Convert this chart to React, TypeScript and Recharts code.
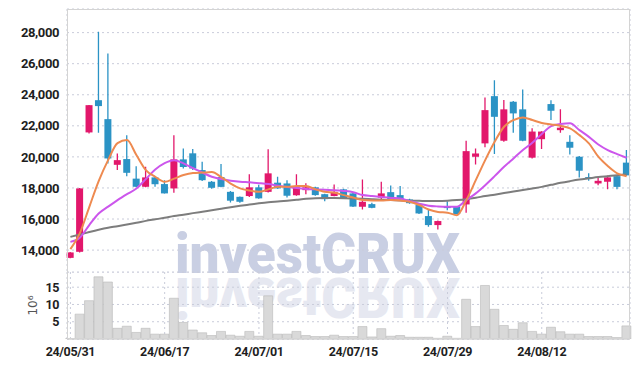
import React from 'react';
import { ComposedChart, Bar, Line, XAxis, YAxis, CartesianGrid } from 'recharts';

const dates = [
  '24/05/31', '24/06/03', '24/06/04', '24/06/05', '24/06/07', '24/06/10', '24/06/11', '24/06/12', '24/06/13', '24/06/14',
  '24/06/17', '24/06/18', '24/06/19', '24/06/20', '24/06/21', '24/06/24', '24/06/25', '24/06/26', '24/06/27', '24/06/28',
  '24/07/01', '24/07/02', '24/07/03', '24/07/04', '24/07/05', '24/07/08', '24/07/09', '24/07/10', '24/07/11', '24/07/12',
  '24/07/15', '24/07/16', '24/07/17', '24/07/18', '24/07/19', '24/07/22', '24/07/23', '24/07/24', '24/07/25', '24/07/26',
  '24/07/29', '24/07/30', '24/07/31', '24/08/01', '24/08/02', '24/08/05', '24/08/06', '24/08/07', '24/08/08', '24/08/09',
  '24/08/12', '24/08/13', '24/08/14', '24/08/16', '24/08/19', '24/08/20', '24/08/21', '24/08/22', '24/08/23', '24/08/26',
];

const open = [
  13500, 13890, 21575, 23650, 22430, 19490, 19860, 18600, 18075, 18680,
  18250, 17970, 19840, 20230, 19150, 18400, 18700, 17750, 17430, 17480,
  18040, 17750, 18340, 18290, 17530, 17860, 18040, 17600, 17480, 17910,
  17650, 16790, 16960, 17380, 17730, 17540, 17260, 16900, 16190, 15610,
  16800, 16790, 16940, 20010, 20870, 23910, 21040, 23550, 23060, 19950,
  21140, 23400, 21720, 20970, 20010, 18700, 18290, 18400, 18760, 19630,
];
const high = [
  13880, 17990, 23340, 28050, 26660, 20220, 21400, 19400, 19360, 18700,
  18500, 21400, 20540, 20500, 19680, 18450, 19550, 17800, 17450, 18890,
  18200, 20490, 18720, 18500, 18890, 18300, 18080, 17620, 18230, 17950,
  17700, 18550, 17050, 18400, 18160, 18120, 17300, 16950, 16620, 15900,
  17150, 16800, 21040, 20540, 23830, 24940, 23660, 23600, 24340, 21840,
  21650, 23650, 23060, 21400, 20050, 18940, 18680, 18800, 18800, 20440,
];
const low = [
  13480, 13850, 21500, 21550, 19580, 19150, 18760, 18050, 18050, 18075,
  17640, 17690, 19260, 19150, 18450, 17950, 18050, 17070, 17050, 17420,
  17300, 17700, 17950, 17380, 17500, 17600, 17500, 17150, 17460, 17300,
  16780, 16620, 16700, 17270, 17200, 17250, 16980, 16330, 15500, 15330,
  16560, 16300, 16400, 19510, 20620, 20180, 20970, 21550, 21000, 19900,
  20500, 22370, 21550, 20160, 18680, 18460, 18180, 17910, 17910, 18780,
];
const close = [
  13850, 17970, 23330, 23270, 19900, 19790, 18975, 18075, 18680, 18240,
  17650, 19840, 19350, 19250, 18500, 18010, 18070, 17180, 17110, 18040,
  17330, 18940, 17970, 17500, 18040, 18040, 17540, 17280, 17750, 17330,
  16800, 17110, 16720, 17650, 17220, 17280, 17020, 16360, 15610, 15870,
  16760, 16320, 20370, 20220, 23010, 22580, 23060, 22800, 21040, 21630,
  21630, 22970, 21880, 20590, 19110, 18660, 18460, 18680, 18070, 18810,
];

const ma5 = [
  14060, 15090, 16770, 18440, 19790, 20890, 21080, 20120, 19150, 18720,
  18400, 18600, 18830, 18960, 18990, 19020, 18700, 18280, 17970, 17830,
  17750, 17910, 18070, 18070, 18120, 18120, 17910, 17750, 17690, 17540,
  17380, 17220, 17190, 17190, 17220, 17190, 17110, 16900, 16610, 16450,
  16410, 16250, 17220, 18500, 19790, 20970, 21940, 22370, 22540, 22370,
  22180, 22090, 22000, 21830, 21400, 20870, 20010, 19410, 18940, 18760,
];
const ma10 = [
  14530, 14800, 15610, 16360, 16800, 17220, 17600, 17960, 18570, 19190,
  19600, 19790, 19580, 19280, 18990, 18720, 18570, 18470, 18400, 18360,
  18310, 18250, 18150, 18060, 17990, 17940, 17910, 17880, 17860, 17810,
  17730, 17540, 17480, 17420, 17360, 17320, 17150, 16990, 16860, 16810,
  16790, 16790, 17220, 17650, 18180, 18760, 19360, 19900, 20440, 20910,
  21470, 21980, 22110, 22160, 21720, 21290, 20800, 20440, 20180, 19940,
];
const maLong = [
  14850, 15000, 15160, 15310, 15440, 15540, 15650, 15760, 15880, 15980,
  16080, 16190, 16280, 16380, 16470, 16560, 16660, 16760, 16850, 16930,
  17010, 17080, 17130, 17180, 17240, 17300, 17340, 17350, 17350, 17340,
  17320, 17300, 17270, 17240, 17220, 17200, 17180, 17170, 17160, 17160,
  17180, 17220, 17280, 17370, 17480, 17570, 17670, 17770, 17870, 17970,
  18070, 18200, 18330, 18440, 18540, 18620, 18700, 18760, 18820, 18860,
];

// volume, in millions of shares
const volume = [
  0.1, 7.2, 11.1, 18.0, 16.5, 3.1, 3.7, 1.9, 3.1, 1.4,
  1.4, 11.8, 4.8, 2.6, 1.8, 1.0, 2.2, 1.1, 0.8, 2.2,
  0.8, 12.5, 1.4, 1.4, 2.2, 1.0, 0.7, 0.7, 1.1, 0.7,
  0.7, 3.6, 0.6, 3.0, 0.8, 1.0, 0.5, 0.5, 0.5, 0.2,
  0.8, 0.2, 11.5, 3.6, 15.5, 8.6, 3.9, 2.8, 4.7, 2.2,
  1.4, 3.4, 2.1, 1.4, 1.4, 0.7, 0.7, 0.7, 0.4, 3.8,
];

const priceTicks = [14000, 16000, 18000, 20000, 22000, 24000, 26000, 28000];
const volumeTicks = [5, 10, 15];
const dateTicks = [0, 10, 20, 30, 40, 50];

const RED = '#e2176b';
const BLUE = '#2b93c5';
const GRID = '#c9ccda';
const FONT = 'Roboto, sans-serif';

const rows = dates.map((d, i) => ({
  idx: i,
  date: d,
  open: open[i],
  high: high[i],
  low: low[i],
  close: close[i],
  range: [low[i], high[i]],
  ma5: ma5[i],
  ma10: ma10[i],
  maLong: maLong[i],
  vol: volume[i],
}));

const xDomain = [-0.36, 59.36];

function Candle(props: any) {
  const { x, y, width, height, payload } = props;
  if (!payload || x == null) return null;
  const top = height < 0 ? y + height : y;
  const h = Math.abs(height);
  const span = payload.high - payload.low || 1;
  const toY = (v: number) => top + ((payload.high - v) / span) * h;
  const up = payload.close >= payload.open;
  const color = up ? RED : BLUE;
  const cx = x + width / 2;
  const yo = toY(payload.open);
  const yc = toY(payload.close);
  const bodyTop = Math.min(yo, yc);
  const bodyH = Math.max(Math.abs(yo - yc), 1.5);
  return (
    <g>
      <line x1={cx} x2={cx} y1={top} y2={top + h} stroke={color} strokeWidth={1.3} />
      <rect x={x} y={bodyTop} width={width} height={bodyH} fill={color} />
    </g>
  );
}

const tickStyle = { fontSize: 13, fill: '#1e1e1e', fontFamily: FONT, fontWeight: 700, letterSpacing: -0.4 };

export default function App() {
  return (
    <div style={{ position: 'absolute', left: 0, top: 0, width: 639, height: 366, background: '#fff' }}>
      <svg width={639} height={366} style={{ position: 'absolute', left: 0, top: 0 }}>
        <text
          x={175}
          y={273}
          textLength={285}
          lengthAdjust="spacingAndGlyphs"
          fontSize={56}
          fontWeight={900}
          fontFamily="Roboto, 'Liberation Sans', sans-serif"
          fill="#c9cfe3"
        >
          investCRUX
        </text>
        <text
          x={175}
          y={273}
          transform="translate(0 551) scale(1 -1)"
          textLength={285}
          lengthAdjust="spacingAndGlyphs"
          fontSize={56}
          fontWeight={900}
          fontFamily="Roboto, 'Liberation Sans', sans-serif"
          fill="#e6e8f1"
        >
          investCRUX
        </text>
      </svg>

      <div style={{ position: 'absolute', left: 0, top: 0 }}>
        <ComposedChart width={639} height={275} data={rows} margin={{ top: 9, right: 9, bottom: 3, left: 0 }}>
          <CartesianGrid stroke={GRID} strokeDasharray="2 3" />
          <XAxis
            type="number"
            dataKey="idx"
            domain={xDomain}
            ticks={dateTicks}
            height={0}
            tick={false}
            tickLine={false}
            axisLine={{ stroke: '#d2d2d2' }}
          />
          <YAxis
            domain={[12590, 29520]}
            ticks={priceTicks}
            interval={0}
            width={67}
            axisLine={false}
            tickLine={false}
            tick={tickStyle}
            tickFormatter={(v: number) => v.toLocaleString('en-US')}
            allowDataOverflow
          />
          <Bar dataKey="range" barSize={7} shape={<Candle />} isAnimationActive={false} />
          <Line type="monotone" dataKey="maLong" stroke="#7d7d7d" strokeWidth={2} dot={false} isAnimationActive={false} />
          <Line type="monotone" dataKey="ma10" stroke="#cc56ec" strokeWidth={2} dot={false} isAnimationActive={false} />
          <Line type="monotone" dataKey="ma5" stroke="#ee8a50" strokeWidth={2} dot={false} isAnimationActive={false} />
        </ComposedChart>
      </div>

      <div style={{ position: 'absolute', left: 0, top: 272 }}>
        <ComposedChart width={639} height={94} data={rows} margin={{ top: 0, right: 9, bottom: 0, left: 0 }}>
          <CartesianGrid stroke={GRID} strokeDasharray="2 3" />
          <XAxis
            type="number"
            dataKey="idx"
            domain={xDomain}
            ticks={dateTicks}
            interval={0}
            height={27}
            tickLine={false}
            axisLine={{ stroke: '#bdbdbd' }}
            tick={{ ...tickStyle, fontSize: 12.5 }}
            tickFormatter={(i: number) => dates[i]}
          />
          <YAxis
            domain={[0, 19.4]}
            ticks={volumeTicks}
            interval={0}
            width={67}
            axisLine={false}
            tickLine={false}
            tick={{ ...tickStyle, fontSize: 12.5 }}
            allowDataOverflow
            label={{
              value: '10⁶',
              angle: -90,
              position: 'center',
              dx: -1,
              style: { fontSize: 12, fill: '#555', fontFamily: "'DejaVu Sans', sans-serif" },
            }}
          />
          <Bar dataKey="vol" barSize={9} fill="#d9d9d9" stroke="#b9b9b9" strokeWidth={0.6} isAnimationActive={false} />
        </ComposedChart>
      </div>

      <div
        style={{
          position: 'absolute',
          left: 67,
          top: 9,
          width: 563,
          height: 330,
          border: '1px solid #d4d4d4',
          boxSizing: 'border-box',
          pointerEvents: 'none',
        }}
      />
    </div>
  );
}
